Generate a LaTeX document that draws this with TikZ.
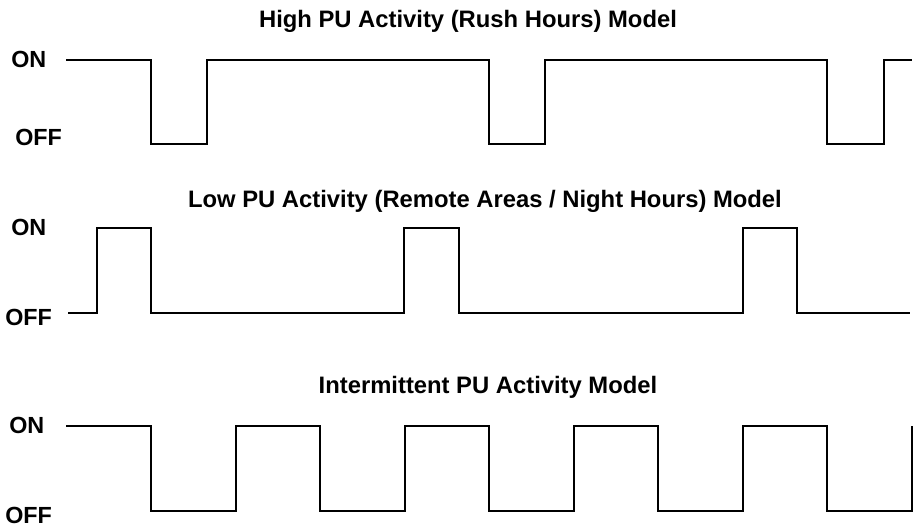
\documentclass[tikz,border=0pt]{standalone}
\usepackage{fontspec}
\setmainfont{Liberation Sans}
\usepackage{tikz}
\usetikzlibrary{positioning}

\begin{document}
\begin{tikzpicture}[x=0.75pt,y=-0.75pt,
        title/.style={font=\bfseries\fontsize{17.85}{20}\selectfont,anchor=base,inner sep=0pt},
        level/.style={font=\bfseries\fontsize{17.5}{20}\selectfont,anchor=base west,inner sep=0pt},
        wave/.style={line width=1.5pt,line join=miter}]
    \useasboundingbox (0,0) rectangle (914,526);

      % high activity
      \node[title] (t_high) at (468,27) {High PU Activity (Rush Hours) Model};
      \node[level] (on_high)  at (11,67)  {ON};
      \node[level] (off_high) at (15,145) {OFF};
      \draw[wave] (66,60) -- (151,60) -- (151,144) -- (207,144) -- (207,60)
                  -- (489,60) -- (489,144) -- (545,144) -- (545,60)
                  -- (827,60) -- (827,144) -- (884,144) -- (884,60) -- (912,60);

      % low activity
      \node[title] (t_low) at (485,207) {Low PU Activity (Remote Areas / Night Hours) Model};
      \node[level] (on_low)  at (11,235) {ON};
      \node[level] (off_low) at (5,325)  {OFF};
      \draw[wave] (68,313) -- (97,313) -- (97,228) -- (151,228) -- (151,313)
                  -- (404,313) -- (404,228) -- (459,228) -- (459,313)
                  -- (743,313) -- (743,228) -- (797,228) -- (797,313) -- (910,313);

      % intermittent activity
      \node[title] (t_int) at (488,393) {Intermittent PU Activity Model};
      \node[level] (on_int)  at (9,433) {ON};
      \node[level] (off_int) at (5,523) {OFF};
      \draw[wave] (66,426) \foreach \x in {151,320,489,658,827} {
                    -- (\x,426) -- (\x,511) -- (\x+84.5,511) -- (\x+84.5,426)};

\end{tikzpicture}
\end{document}
